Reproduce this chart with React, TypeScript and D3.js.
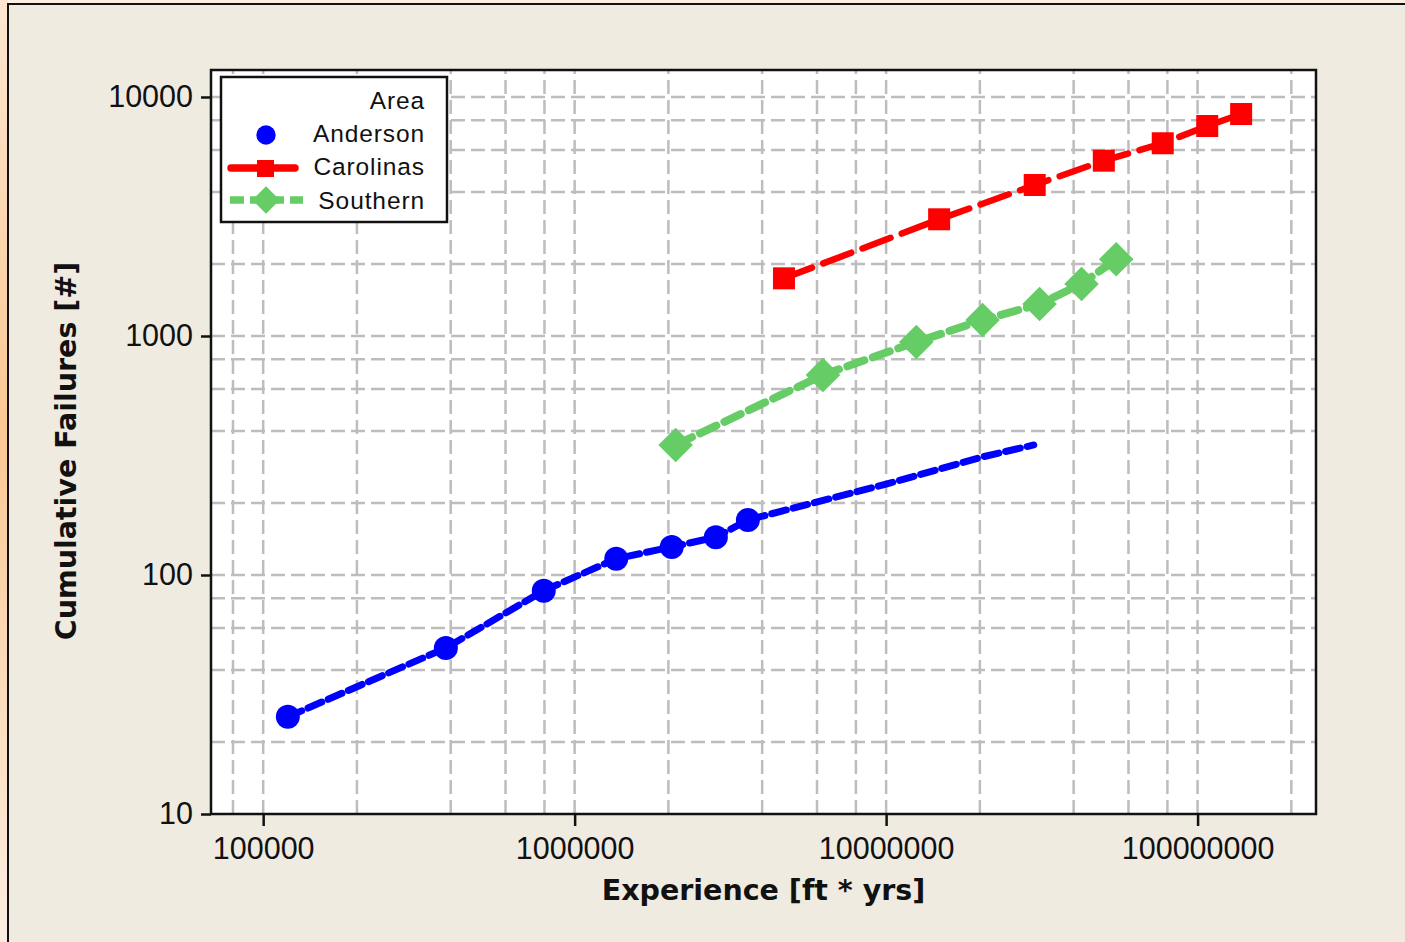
import React, { useEffect, useRef } from "react";
import * as d3 from "d3";

// values
const andersonX = [1.2e5, 3.86e5, 7.96e5, 1.36e6, 2.05e6, 2.84e6, 3.6e6];
const andersonY = [25.5, 49.5, 86, 117, 131, 144, 170];
// Anderson line continues past the last marker
const andersonTailX = [1.0e7, 2.04e7, 2.98e7];
const andersonTailY = [240, 312, 350];

const carolinasX = [4.7e6, 1.48e7, 3.0e7, 5.0e7, 7.73e7, 1.074e8, 1.38e8];
const carolinasY = [1743, 3078, 4283, 5414, 6403, 7562, 8487];

const southernX = [2.11e6, 6.27e6, 1.25e7, 2.04e7, 3.11e7, 4.24e7, 5.48e7];
const southernY = [350, 687, 944, 1166, 1361, 1651, 2094];

const xTicks = [1e5, 1e6, 1e7, 1e8];
const yTicks = [10, 100, 1000, 10000];
const gridMult = [1, 2, 4, 6, 8];

const W = 1405;
const H = 942;
const plot = { left: 211, right: 1316, top: 70, bottom: 814 };

export default function App() {
  const ref = useRef<SVGSVGElement | null>(null);

  useEffect(() => {
    document.body.style.margin = "0";
    const svg = d3.select(ref.current);
    svg.selectAll("*").remove();

    const x = d3.scaleLog().domain([6.8e4, 2.4e8]).range([plot.left, plot.right]);
    const y = d3.scaleLog().domain([10, 12970]).range([plot.bottom, plot.top]);

    // page frame
    const defs = svg.append("defs");
    const grad = defs
      .append("linearGradient")
      .attr("id", "edge")
      .attr("x1", 0)
      .attr("y1", 0)
      .attr("x2", 0)
      .attr("y2", 1);
    grad.append("stop").attr("offset", "0%").attr("stop-color", "#fde6d2");
    grad.append("stop").attr("offset", "45%").attr("stop-color", "#fac893");
    grad.append("stop").attr("offset", "100%").attr("stop-color", "#fdeee2");

    svg.append("rect").attr("width", W).attr("height", H).attr("fill", "#fdeee2");
    svg.append("rect").attr("width", 8).attr("height", H).attr("fill", "url(#edge)");
    svg
      .append("rect")
      .attr("x", 8)
      .attr("y", 4)
      .attr("width", W)
      .attr("height", H)
      .attr("fill", "#efebe1")
      .attr("stroke", "#111")
      .attr("stroke-width", 2);

    // plot background
    svg
      .append("rect")
      .attr("x", plot.left)
      .attr("y", plot.top)
      .attr("width", plot.right - plot.left)
      .attr("height", plot.bottom - plot.top)
      .attr("fill", "#fff");

    // grid
    const xGrid: number[] = [];
    const yGrid: number[] = [];
    [4, 5, 6, 7, 8].forEach((e) =>
      gridMult.forEach((m) => {
        const v = m * Math.pow(10, e);
        if (v > x.domain()[0] && v < x.domain()[1]) xGrid.push(v);
      })
    );
    [1, 2, 3, 4].forEach((e) =>
      gridMult.forEach((m) => {
        const v = m * Math.pow(10, e);
        if (v > y.domain()[0] && v < y.domain()[1]) yGrid.push(v);
      })
    );
    const grid = svg
      .append("g")
      .attr("stroke", "#bdbdbd")
      .attr("stroke-width", 2.5)
      .attr("stroke-dasharray", "14,6");
    grid
      .selectAll("line.v")
      .data(xGrid)
      .enter()
      .append("line")
      .attr("x1", (d) => x(d))
      .attr("x2", (d) => x(d))
      .attr("y1", plot.bottom)
      .attr("y2", plot.top);
    grid
      .selectAll("line.h")
      .data(yGrid)
      .enter()
      .append("line")
      .attr("x1", plot.left)
      .attr("x2", plot.right)
      .attr("y1", (d) => y(d))
      .attr("y2", (d) => y(d));

    // axes
    const xAxis = svg
      .append("g")
      .attr("transform", `translate(0,${plot.bottom})`)
      .call(
        d3.axisBottom(x).tickValues(xTicks).tickFormat(d3.format("d")).tickSize(12).tickPadding(11)
      );
    const yAxis = svg
      .append("g")
      .attr("transform", `translate(${plot.left},0)`)
      .call(
        d3.axisLeft(y).tickValues(yTicks).tickFormat(d3.format("d")).tickSize(10).tickPadding(8)
      );
    [xAxis, yAxis].forEach((a) => {
      a.select(".domain").remove();
      a.selectAll("line").attr("stroke", "#111").attr("stroke-width", 2.5);
      a.selectAll("text")
        .attr("fill", "#111")
        .style("font-family", "'Liberation Sans', Arial, sans-serif")
        .style("font-size", "30.5px");
    });

    // series lines
    const line = d3
      .line<[number, number]>()
      .x((d) => x(d[0]))
      .y((d) => y(d[1]));

    const series = [
      {
        pts: andersonX.map((v, i) => [v, andersonY[i]] as [number, number]).concat(
          andersonTailX.map((v, i) => [v, andersonTailY[i]] as [number, number])
        ),
        color: "#0000ff",
        dash: "15,7",
        width: 7,
      },
      {
        pts: carolinasX.map((v, i) => [v, carolinasY[i]] as [number, number]),
        color: "#ff0000",
        dash: "30,12",
        width: 6.5,
      },
      {
        pts: southernX.map((v, i) => [v, southernY[i]] as [number, number]),
        color: "#66cc66",
        dash: "18,9",
        width: 8,
      },
    ];
    series.forEach((s) => {
      svg
        .append("path")
        .attr("d", line(s.pts))
        .attr("fill", "none")
        .attr("stroke", s.color)
        .attr("stroke-width", s.width)
        .attr("stroke-dasharray", s.dash)
        .attr("stroke-linecap", "round");
    });

    // markers
    svg
      .selectAll("circle.anderson")
      .data(andersonX)
      .enter()
      .append("circle")
      .attr("cx", (d) => x(d))
      .attr("cy", (d, i) => y(andersonY[i]))
      .attr("r", 12)
      .attr("fill", "#0000ff");

    const sq = 22;
    svg
      .selectAll("rect.carolinas")
      .data(carolinasX)
      .enter()
      .append("rect")
      .attr("x", (d) => x(d) - sq / 2)
      .attr("y", (d, i) => y(carolinasY[i]) - sq / 2)
      .attr("width", sq)
      .attr("height", sq)
      .attr("fill", "#ff0000");

    const diamond = d3.symbol().type(d3.symbolDiamond2).size(760);
    svg
      .selectAll("path.southern")
      .data(southernX)
      .enter()
      .append("path")
      .attr("d", diamond)
      .attr("transform", (d, i) => `translate(${x(d)},${y(southernY[i])})`)
      .attr("fill", "#66cc66");

    // plot border
    svg
      .append("rect")
      .attr("x", plot.left)
      .attr("y", plot.top)
      .attr("width", plot.right - plot.left)
      .attr("height", plot.bottom - plot.top)
      .attr("fill", "none")
      .attr("stroke", "#111")
      .attr("stroke-width", 2.5);

    // legend
    const lg = svg.append("g");
    lg.append("rect")
      .attr("x", 221)
      .attr("y", 77)
      .attr("width", 226)
      .attr("height", 145)
      .attr("fill", "#fff")
      .attr("stroke", "#111")
      .attr("stroke-width", 2.5);
    const legendText = [
      { label: "Area", y: 109 },
      { label: "Anderson", y: 142 },
      { label: "Carolinas", y: 175 },
      { label: "Southern", y: 209 },
    ];
    lg.selectAll("text")
      .data(legendText)
      .enter()
      .append("text")
      .attr("x", 425)
      .attr("y", (d) => d.y)
      .attr("text-anchor", "end")
      .style("font-family", "'Liberation Sans', Arial, sans-serif")
      .style("font-size", "24.5px")
      .style("letter-spacing", "0.9px")
      .attr("fill", "#111")
      .text((d) => d.label);
    lg.append("circle").attr("cx", 266).attr("cy", 135).attr("r", 9.7).attr("fill", "#0000ff");
    lg.append("line")
      .attr("x1", 231)
      .attr("x2", 295)
      .attr("y1", 168)
      .attr("y2", 168)
      .attr("stroke", "#ff0000")
      .attr("stroke-width", 7.5)
      .attr("stroke-linecap", "round");
    lg.append("rect").attr("x", 257).attr("y", 160).attr("width", 17).attr("height", 17).attr("fill", "#ff0000");
    lg.append("line")
      .attr("x1", 230)
      .attr("x2", 303)
      .attr("y1", 200)
      .attr("y2", 200)
      .attr("stroke", "#66cc66")
      .attr("stroke-width", 7.5)
      .attr("stroke-dasharray", "14,6");
    lg.append("path")
      .attr("d", d3.symbol().type(d3.symbolDiamond2).size(480)())
      .attr("transform", "translate(266,200)")
      .attr("fill", "#66cc66");

    // axis titles
    svg
      .append("text")
      .attr("x", (plot.left + plot.right) / 2)
      .attr("y", 900)
      .attr("text-anchor", "middle")
      .style("font-family", "'DejaVu Sans', Verdana, sans-serif")
      .style("font-weight", "bold")
      .style("font-size", "28.5px")
      .attr("fill", "#111")
      .text("Experience [ft * yrs]");
    svg
      .append("text")
      .attr("transform", "translate(76,451) rotate(-90)")
      .attr("text-anchor", "middle")
      .style("font-family", "'DejaVu Sans', Verdana, sans-serif")
      .style("font-weight", "bold")
      .style("font-size", "28.5px")
      .attr("fill", "#111")
      .text("Cumulative Failures [#]");
  }, []);

  return <svg ref={ref} width={W} height={H} style={{ display: "block" }} />;
}
